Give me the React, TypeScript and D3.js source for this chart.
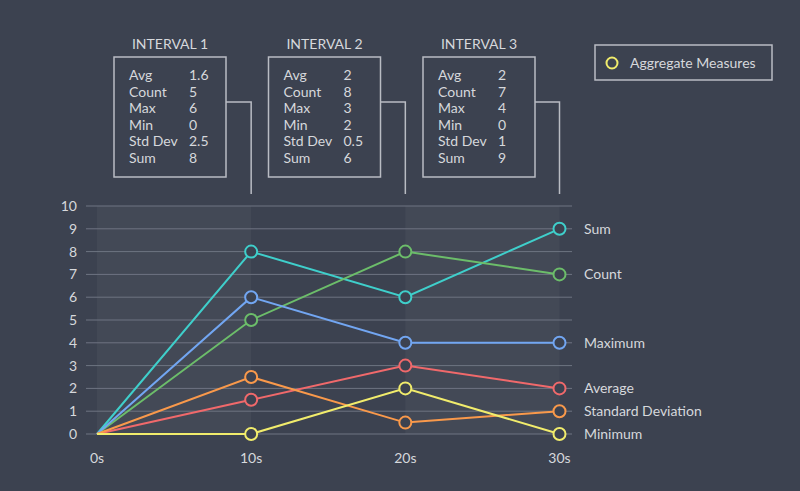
import React from "react";
import * as d3 from "d3";

const times = [0, 10, 20, 30];
const xTickLabels = ["0s", "10s", "20s", "30s"];
const yTicks = [0, 1, 2, 3, 4, 5, 6, 7, 8, 9, 10];

const seriesNames = ["Sum", "Count", "Maximum", "Average", "Standard Deviation", "Minimum"];
const seriesColors = ["#3fcfcb", "#6cbd6a", "#72a6f2", "#f0696b", "#f9994b", "#f1ec6c"];
const sumValues = [0, 8, 6, 9];
const countValues = [0, 5, 8, 7];
const maxValues = [0, 6, 4, 4];
const avgValues = [0, 1.5, 3, 2];
const stdValues = [0, 2.5, 0.5, 1];
const minValues = [0, 0, 2, 0];
const seriesValues = [sumValues, countValues, maxValues, avgValues, stdValues, minValues];

const intervalTitles = ["INTERVAL 1", "INTERVAL 2", "INTERVAL 3"];
const statLabels = ["Avg", "Count", "Max", "Min", "Std Dev", "Sum"];
const interval1Stats = ["1.6", "5", "6", "0", "2.5", "8"];
const interval2Stats = ["2", "8", "3", "2", "0.5", "6"];
const interval3Stats = ["2", "7", "4", "0", "1", "9"];
const intervalStats = [interval1Stats, interval2Stats, interval3Stats];

const legendLabel = "Aggregate Measures";

const BG = "#3c4250";
const TEXT = "#d6d8dc";
const GRID = "#6e7482";
const FONT = "Lato, 'Open Sans', sans-serif";
const FS = 14;

export default function App() {
  const W = 800, H = 491;
  const x = d3.scaleLinear().domain([0, 30]).range([97, 559.5]);
  const y = d3.scaleLinear().domain([0, 10]).range([434, 206]);
  const line = d3.line<number>().x((_, i) => x(times[i])).y((v) => y(v));

  return (
    <svg width={W} height={H} style={{ position: "absolute", left: 0, top: 0, background: BG, fontFamily: FONT }}>
      <rect x={0} y={0} width={W} height={H} fill={BG} />
      {/* bands */}
      {[0, 2].map((i) => (
        <rect key={i} x={x(times[i])} y={y(10)} width={x(times[i + 1]) - x(times[i])} height={y(0) - y(10)}
          fill="rgba(255,255,255,0.04)" />
      ))}
      {/* grid */}
      {yTicks.map((t) => (
        <g key={t}>
          <line x1={86} x2={572} y1={y(t)} y2={y(t)} stroke={GRID} strokeWidth={1} />
          <text x={77} y={y(t)} dy="0.35em" textAnchor="end" fill={TEXT} fontSize={FS}>{t}</text>
        </g>
      ))}
      {xTickLabels.map((l, i) => (
        <text key={l} x={x(times[i])} y={463} textAnchor="middle" fill={TEXT} fontSize={FS}>{l}</text>
      ))}
      {/* interval boxes */}
      {intervalTitles.map((title, i) => {
        const bx = 114 + i * 154.5;
        const cx = x(times[i + 1]);
        return (
          <g key={title}>
            <text x={bx + 56} y={44} dy="0.35em" textAnchor="middle" fill={TEXT} fontSize={FS}>{title}</text>
            <rect x={bx} y={57} width={112} height={120} fill="none" stroke="#b9bcc3" strokeWidth={1.5} />
            <polyline points={`${bx + 112},102 ${cx},102 ${cx},194`} fill="none" stroke="#b9bcc3" strokeWidth={1.5} />
            {statLabels.map((s, j) => (
              <g key={s}>
                <text x={bx + 15} y={75 + j * 16.6} dy="0.35em" fill={TEXT} fontSize={FS}>{s}</text>
                <text x={bx + 75} y={75 + j * 16.6} dy="0.35em" fill={TEXT} fontSize={FS}>{intervalStats[i][j]}</text>
              </g>
            ))}
          </g>
        );
      })}
      {/* legend */}
      <rect x={595} y={45} width={177} height={35} fill="none" stroke="#b9bcc3" strokeWidth={1.5} />
      <circle cx={612} cy={63} r={5.5} fill={BG} stroke="#f1ec6c" strokeWidth={2} />
      <text x={630} y={63} dy="0.35em" fill={TEXT} fontSize={FS}>{legendLabel}</text>
      {/* series */}
      {seriesValues.map((vals, si) => (
        <g key={seriesNames[si]}>
          <path d={line(vals) || ""} fill="none" stroke={seriesColors[si]} strokeWidth={2} />
          {vals.map((v, i) => i > 0 ? (
            <circle key={i} cx={x(times[i])} cy={y(v)} r={6} fill={BG} stroke={seriesColors[si]} strokeWidth={2} />
          ) : null)}
          <text x={584} y={y(vals[vals.length - 1])} dy="0.35em" fill={TEXT} fontSize={FS}>{seriesNames[si]}</text>
        </g>
      ))}
    </svg>
  );
}
